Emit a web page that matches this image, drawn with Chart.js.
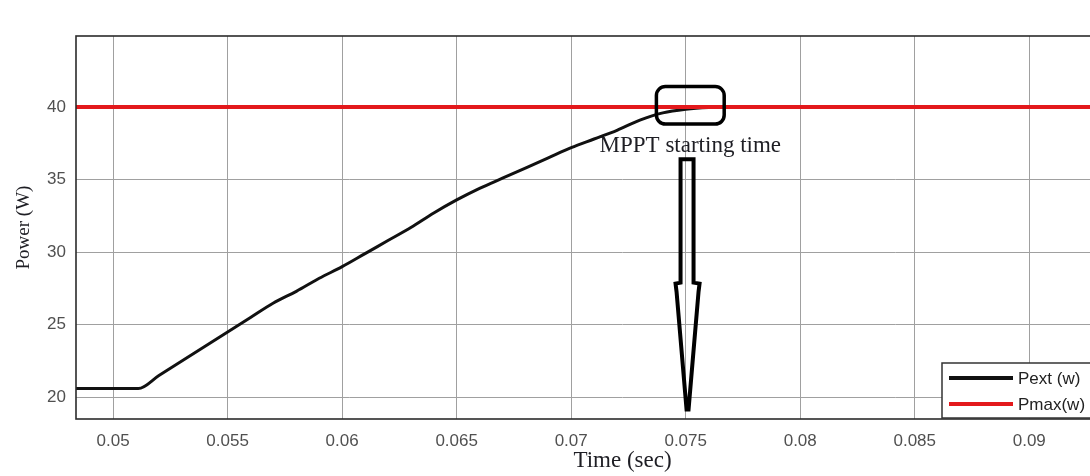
<!DOCTYPE html>
<html>
<head>
<meta charset="utf-8">
<script src="https://cdn.jsdelivr.net/npm/chart.js@4.4.1/dist/chart.umd.min.js"></script>
<style>
  html, body { margin: 0; padding: 0; background: #fff; overflow: hidden; }
  #view { width: 1090px; height: 476px; overflow: hidden; }
</style>
</head>
<body>
<div id="view"><canvas id="powerChart" width="1170" height="476"></canvas></div>
<script>
// simulation output: extracted power ramping up to the maximum power point
const timeSec = [0.04838, 0.0511, 0.052, 0.053, 0.054, 0.055, 0.056, 0.057, 0.058, 0.059,
  0.060, 0.061, 0.062, 0.063, 0.064, 0.065, 0.066, 0.067, 0.068, 0.069,
  0.070, 0.071, 0.072, 0.073, 0.074, 0.075, 0.076, 0.077, 0.0961];
const pextW = [20.6, 20.6, 21.5, 22.5, 23.5, 24.5, 25.5, 26.5, 27.3, 28.2,
  29.0, 29.9, 30.8, 31.7, 32.7, 33.6, 34.4, 35.1, 35.8, 36.5,
  37.2, 37.8, 38.4, 39.1, 39.6, 39.85, 39.97, 40.0, 40.0];
const pmaxTime = [0.04838, 0.0961];
const pmaxW = [40, 40];
const seriesLabels = ['Pext (w)', 'Pmax(w)'];

// where the MPPT note points (time in s, power in W)
const mpptTime = 0.0752;
const mpptBox = { halfSpan: 0.00148, top: 41.42, bottom: 38.83 };
const mpptArrow = { time: 0.07508, top: 36.4, headStart: 27.9, tip: 19.16 };

const toPoints = (xs, ys) => xs.map((x, i) => ({ x: x, y: ys[i] }));

// plot frame drawn around the axes area
const framePlugin = {
  id: 'frame',
  afterDraw(chart) {
    const { ctx, chartArea: a } = chart;
    ctx.save();
    ctx.strokeStyle = '#2b2b2b';
    ctx.lineWidth = 1.6;
    ctx.strokeRect(a.left, a.top, a.right - a.left, a.bottom - a.top);
    ctx.restore();
  }
};

// rounded box, caption and the long arrow for the MPPT start
const mpptPlugin = {
  id: 'mpptNote',
  afterDatasetsDraw(chart) {
    const { ctx, scales: { x, y } } = chart;
    const cx = x.getPixelForValue(mpptTime);
    ctx.save();
    ctx.strokeStyle = '#000';
    ctx.lineWidth = 3.5;
    const bl = x.getPixelForValue(mpptTime - mpptBox.halfSpan);
    const br = x.getPixelForValue(mpptTime + mpptBox.halfSpan);
    const bt = y.getPixelForValue(mpptBox.top);
    const bb = y.getPixelForValue(mpptBox.bottom);
    ctx.beginPath();
    ctx.roundRect(bl, bt, br - bl, bb - bt, 9);
    ctx.stroke();

    ctx.fillStyle = '#1e1e24';
    ctx.font = '23px "Liberation Serif", "Times New Roman", serif';
    ctx.textAlign = 'center';
    ctx.textBaseline = 'alphabetic';
    ctx.fillText('MPPT starting time', cx, 152);

    const ax = x.getPixelForValue(mpptArrow.time);
    const t0 = y.getPixelForValue(mpptArrow.top);
    const h0 = y.getPixelForValue(mpptArrow.headStart);
    const tip = y.getPixelForValue(mpptArrow.tip);
    ctx.lineWidth = 4;
    ctx.lineJoin = 'miter';
    ctx.beginPath();
    ctx.moveTo(ax - 7, t0);
    ctx.lineTo(ax + 6, t0);
    ctx.lineTo(ax + 6, h0);
    ctx.lineTo(ax + 12, h0 + 1);
    ctx.lineTo(ax + 11, h0 + 9);
    ctx.lineTo(ax + 1, tip);
    ctx.lineTo(ax - 1, tip);
    ctx.lineTo(ax - 11, h0 + 9);
    ctx.lineTo(ax - 12, h0 + 1);
    ctx.lineTo(ax - 7, h0);
    ctx.closePath();
    ctx.stroke();
    ctx.restore();
  }
};

// boxed legend in the lower right corner
const legendBoxPlugin = {
  id: 'legendBox',
  afterDraw(chart) {
    const { ctx, chartArea: a } = chart;
    const left = 942, top = 363;
    ctx.save();
    ctx.fillStyle = '#fff';
    ctx.fillRect(left, top, a.right - 4 - left, a.bottom - 1 - top);
    ctx.strokeStyle = '#333';
    ctx.lineWidth = 1.5;
    ctx.strokeRect(left, top, a.right - 4 - left, a.bottom - 1 - top);
    ctx.font = '17px "Liberation Sans", Arial, sans-serif';
    ctx.textBaseline = 'middle';
    ctx.textAlign = 'left';
    chart.data.datasets.forEach((ds, i) => {
      const ly = top + 15 + i * 26;
      ctx.strokeStyle = ds.borderColor;
      ctx.lineWidth = 4;
      ctx.beginPath();
      ctx.moveTo(left + 7, ly);
      ctx.lineTo(left + 71, ly);
      ctx.stroke();
      ctx.fillStyle = '#222';
      ctx.fillText(ds.label, left + 76, ly + 1);
    });
    ctx.restore();
  }
};

new Chart(document.getElementById('powerChart'), {
  type: 'line',
  data: {
    datasets: [
      {
        label: seriesLabels[0],
        data: toPoints(timeSec, pextW),
        borderColor: '#111',
        borderWidth: 3,
        pointRadius: 0,
        cubicInterpolationMode: 'monotone',
        order: 1
      },
      {
        label: seriesLabels[1],
        data: toPoints(pmaxTime, pmaxW),
        borderColor: '#e3191c',
        borderWidth: 4,
        pointRadius: 0,
        order: 0
      }
    ]
  },
  options: {
    responsive: false,
    animation: false,
    devicePixelRatio: 1,
    layout: { padding: { top: 36, right: 1, left: 0, bottom: 0 } },
    plugins: {
      legend: { display: false },
      tooltip: { enabled: false }
    },
    scales: {
      x: {
        type: 'linear',
        min: 0.04838,
        max: 0.0961,
        afterFit: (s) => { s.height = 57; s.paddingLeft = 0; s.paddingRight = 0; },
        grid: { color: '#a0a0a0', lineWidth: 1, drawTicks: false },
        border: { display: false },
        ticks: {
          stepSize: 0.005,
          includeBounds: false,
          padding: 12,
          color: '#505050',
          font: { family: '"Liberation Sans", Arial, sans-serif', size: 17 },
          maxRotation: 0,
          callback: (v) => Number(v.toFixed(4)).toString()
        },
        title: {
          display: true,
          text: 'Time (sec)',
          color: '#1e1e24',
          padding: { top: 0, bottom: 1 },
          font: { family: '"Liberation Serif", "Times New Roman", serif', size: 23, lineHeight: 1.2 }
        }
      },
      y: {
        min: 18.5,
        max: 44.9,
        afterFit: (s) => { s.width = 76; },
        grid: { color: '#a0a0a0', lineWidth: 1, drawTicks: false },
        border: { display: false },
        ticks: {
          stepSize: 5,
          includeBounds: false,
          padding: 10,
          color: '#505050',
          font: { family: '"Liberation Sans", Arial, sans-serif', size: 17 }
        },
        title: {
          display: true,
          text: 'Power (W)',
          color: '#1e1e24',
          padding: { top: 13, bottom: 0 },
          font: { family: '"Liberation Serif", "Times New Roman", serif', size: 19, lineHeight: 1.2 }
        }
      }
    }
  },
  plugins: [framePlugin, mpptPlugin, legendBoxPlugin]
});
</script>
</body>
</html>
